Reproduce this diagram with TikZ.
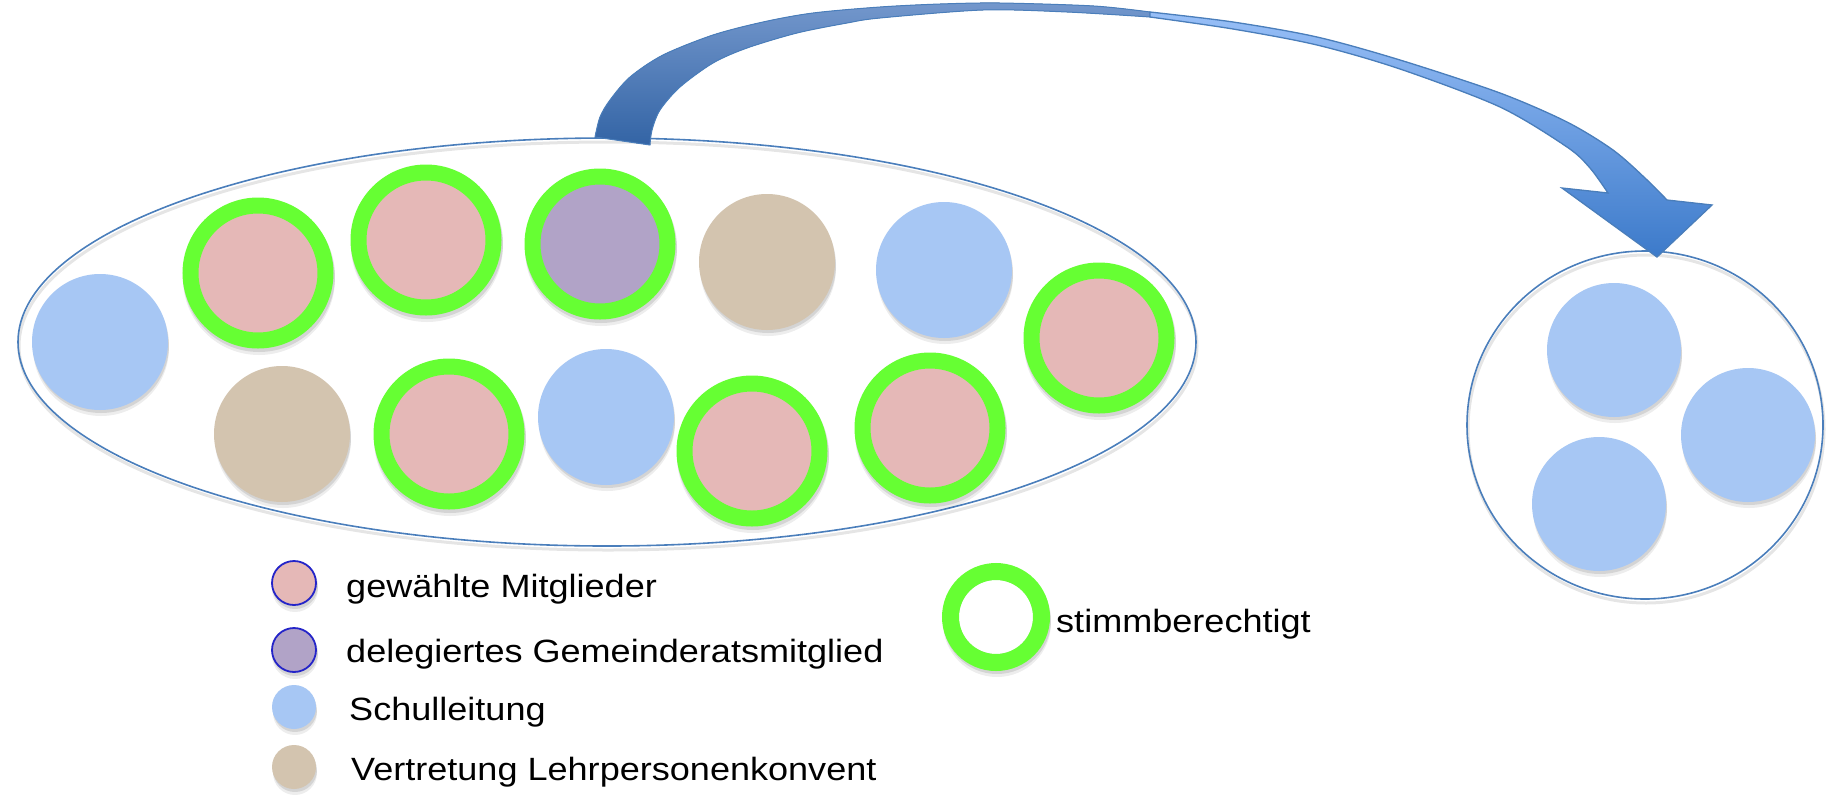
\documentclass[tikz,border=0pt]{standalone}
\usepackage{fontspec}
\setmainfont{Liberation Sans}[FakeStretch=1.12]
\usetikzlibrary{shapes.geometric}
\definecolor{pinkfill}{HTML}{E5B8B7}
\definecolor{purplefill}{HTML}{B1A3C7}
\definecolor{bluefill}{HTML}{A7C7F4}
\definecolor{beigefill}{HTML}{D3C4AF}
\definecolor{vgreen}{HTML}{66FF33}
\definecolor{edgeblue}{HTML}{4A7EBB}
\definecolor{legblue}{HTML}{2424C8}
\definecolor{arrdarkT}{HTML}{7397CC}
\definecolor{arrdarkB}{HTML}{3364A5}
\definecolor{arrlightT}{HTML}{98BFF7}
\definecolor{arrlightM}{HTML}{82ADEC}
\definecolor{arrlightB}{HTML}{3C7ACA}
\begin{document}
\begin{tikzpicture}[x=1pt,y=-1pt,
  mem/.style={circle, inner sep=0pt, outer sep=0pt, minimum size=136pt},
  ring/.style={circle, inner sep=0pt, outer sep=0pt, minimum size=135pt, draw=vgreen, line width=16pt, fill=pinkfill},
  legdot/.style={circle, inner sep=0pt, outer sep=0pt, minimum size=44pt},
  lab/.style={anchor=base west, inner sep=0pt, font=\fontsize{32.2}{38}\selectfont},
  grp/.style={ellipse, draw=edgeblue, line width=1.6pt, inner sep=0pt, outer sep=0pt}
]
\useasboundingbox (0,0) rectangle (1832,796);
\fill[white] (0,0) rectangle (1832,796);

% group outlines (with faint shadow)
\draw[black, opacity=0.10, line width=3pt] (608,346) ellipse [x radius=589, y radius=204];
\draw[black, opacity=0.10, line width=3pt] (1646,429) ellipse [x radius=178, y radius=174];
\node[grp, minimum width=1178pt, minimum height=408pt] (council) at (607,342) {};
\node[grp, minimum width=356pt, minimum height=348pt] (board) at (1645,425) {};

% soft shadows of the members
\foreach \x/\y/\r in {100/342/68, 258/273/76, 426/240/76, 600/244/76, 767/262/68, 944/270/68,
  1099/338/76, 282/434/68, 449/434/76, 606/417/68, 752/451/76, 930/428/76,
  1614/350/67, 1748/435/67, 1599/504/67, 294/583/23, 294/650/23, 294/707/22, 294/767/22, 996/617/54}
{
  \fill[black, opacity=0.07] (\x+1,\y+6) circle (\r);
  \fill[black, opacity=0.10] (\x+1,\y+3) circle (\r);
}
\fill[white] (996,617) circle (37);

% members of the council
\node[mem, fill=bluefill] (sl1) at (100,342) {};
\node[ring] (gm1) at (258,273) {};
\node[ring] (gm2) at (426,240) {};
\node[ring, fill=purplefill] (gr) at (600,244) {};
\node[mem, fill=beigefill] (lk1) at (767,262) {};
\node[mem, fill=bluefill] (sl2) at (944,270) {};
\node[ring] (gm3) at (1099,338) {};
\node[mem, fill=beigefill] (lk2) at (282,434) {};
\node[ring] (gm4) at (449,434) {};
\node[mem, fill=bluefill] (sl3) at (606,417) {};
\node[ring] (gm5) at (752,451) {};
\node[ring] (gm6) at (930,428) {};

% school management
\node[mem, fill=bluefill, minimum size=134pt] (sa) at (1614,350) {};
\node[mem, fill=bluefill, minimum size=134pt] (sb) at (1748,435) {};
\node[mem, fill=bluefill, minimum size=134pt] (sc) at (1599,504) {};

% curved arrow: ascending (dark) part
\fill[top color=arrdarkT, bottom color=arrdarkB, draw=edgeblue, line width=1pt, line join=round]
  plot[smooth] coordinates {(595,137) (600,117) (610,100) (630,77) (663,55) (713,35) (763,22) (813,13) (880,7) (940,4) (1000,3) (1094,6) (1150,12)}
  -- plot[smooth] coordinates {(1150,17) (1067,12) (983,10) (880,18) (847,23) (797,33) (747,48) (713,63) (680,87) (660,110) (652,130) (650,145)}
  -- cycle;
% descending (light) part with head
\fill[top color=arrlightT, middle color=arrlightM, bottom color=arrlightB, draw=edgeblue, line width=1.3pt, line join=miter]
  plot[smooth] coordinates {(1150,12) (1233,22) (1317,37) (1400,60) (1500,93) (1567,122) (1613,150) (1645,178) (1667,200)}
  -- (1712,205) -- (1657,257) -- (1562,188) --
  plot[smooth] coordinates {(1608,193) (1590,168) (1567,147) (1500,107) (1400,69) (1317,45) (1233,29) (1150,17)}
  -- cycle;

% legend
\node[legdot, fill=pinkfill, draw=legblue, line width=1.8pt] (k1) at (294,583) {};
\node[legdot, fill=purplefill, draw=legblue, line width=1.8pt] (k2) at (294,650) {};
\node[legdot, fill=bluefill] (k3) at (294,707) {};
\node[legdot, fill=beigefill] (k4) at (294,767) {};
\node[circle, inner sep=0pt, minimum size=91pt, draw=vgreen, line width=17pt] (k5) at (996,617) {};

\node[lab] (t1) at (346,597) {gewählte Mitglieder};
\node[lab] (t2) at (346,662) {delegiertes Gemeinderatsmitglied};
\node[lab] (t3) at (349,720) {Schulleitung};
\node[lab] (t4) at (351,780) {Vertretung Lehrpersonenkonvent};
\node[lab] (t5) at (1056,632) {stimmberechtigt};
\end{tikzpicture}
\end{document}
